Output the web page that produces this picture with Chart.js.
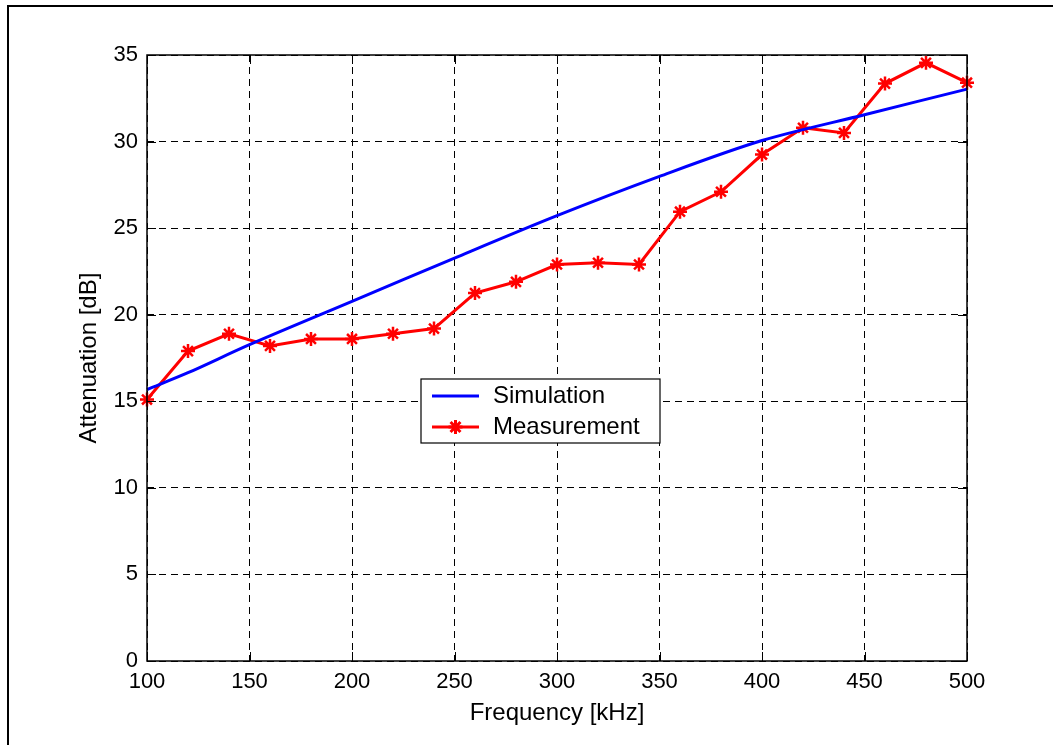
<!DOCTYPE html>
<html>
<head>
<meta charset="utf-8">
<script src="https://cdn.jsdelivr.net/npm/chart.js@4"></script>
<style>
  body { margin: 0; background: #fff; }
  #myChart { display: block; }
</style>
</head>
<body>
<canvas id="myChart" width="1053" height="745"></canvas>
<script>
// values
var measFreq = [100, 120, 140, 160, 180, 200, 220, 240, 260, 280, 300, 320, 340, 360, 380, 400, 420, 440, 460, 480, 500];
var measurement = [15.1, 17.9, 18.9, 18.2, 18.6, 18.6, 18.9, 19.2, 21.25, 21.9, 22.9, 23.0, 22.9, 25.95, 27.1, 29.25, 30.8, 30.5, 33.35, 34.55, 33.4];
var simFreq = [100, 120, 150, 200, 250, 300, 350, 400, 450, 500];
var simulation = [15.68, 16.65, 18.27, 20.77, 23.27, 25.72, 27.99, 30.06, 31.55, 33.03];
var xTicks = [100, 150, 200, 250, 300, 350, 400, 450, 500];
var yTicks = [0, 5, 10, 15, 20, 25, 30, 35];

var FONT = "'Liberation Sans', Arial, sans-serif";

function toPoints(xs, ys) {
    return xs.map(function (x, i) { return {x: x, y: ys[i]}; });
}

// frame, inward ticks, legend box
var matlabLook = {
    id: 'matlabLook',
    beforeDraw: function (chart) {
        var c = chart.ctx;
        c.save();
        c.fillStyle = '#fff';
        c.fillRect(0, 0, chart.width, chart.height);
        c.restore();
    },
    afterDraw: function (chart) {
        var c = chart.ctx, a = chart.chartArea;
        var xs = chart.scales.x, ys = chart.scales.y;
        c.save();
        c.strokeStyle = '#000';
        // outer figure frame (top + left)
        c.lineWidth = 2;
        c.beginPath();
        c.moveTo(8, 745); c.lineTo(8, 6); c.lineTo(1053, 6);
        c.stroke();
        // axes box
        c.lineWidth = 1.5;
        c.strokeRect(a.left, a.top, a.right - a.left, a.bottom - a.top);
        // inward ticks
        c.lineWidth = 1;
        c.beginPath();
        xTicks.forEach(function (v) {
            var px = Math.round(xs.getPixelForValue(v)) + 0.5;
            c.moveTo(px, a.bottom); c.lineTo(px, a.bottom - 9);
            c.moveTo(px, a.top); c.lineTo(px, a.top + 9);
        });
        yTicks.forEach(function (v) {
            var py = Math.round(ys.getPixelForValue(v)) + 0.5;
            c.moveTo(a.left, py); c.lineTo(a.left + 9, py);
            c.moveTo(a.right, py); c.lineTo(a.right - 9, py);
        });
        c.stroke();

        // legend
        var bx = 421, by = 379, bw = 239, bh = 64;
        c.fillStyle = '#fff';
        c.fillRect(bx, by, bw, bh);
        c.lineWidth = 1.2;
        c.strokeRect(bx, by, bw, bh);
        var rows = [396, 427];
        chart.data.datasets.forEach(function (ds, i) {
            var y = rows[i];
            c.strokeStyle = ds.borderColor;
            c.lineWidth = 3;
            c.beginPath(); c.moveTo(432, y); c.lineTo(479, y); c.stroke();
            if (ds.pointRadius > 0) {
                Chart.helpers.drawPoint(c, {pointStyle: 'star', radius: 7, borderWidth: 2.5}, 455.5, y);
            }
            c.fillStyle = '#000';
            c.font = '24px ' + FONT;
            c.textBaseline = 'middle';
            c.textAlign = 'left';
            c.fillText(ds.label, 493, y);
        });
        c.restore();
    }
};

var ctx = document.getElementById('myChart');
var myChart = new Chart(ctx, {
    type: 'line',
    data: {
        datasets: [{
            label: 'Simulation',
            data: toPoints(simFreq, simulation),
            borderColor: '#0000ff',
            backgroundColor: '#0000ff',
            borderWidth: 3,
            pointRadius: 0,
            tension: 0.3,
            clip: false
        }, {
            label: 'Measurement',
            data: toPoints(measFreq, measurement),
            borderColor: '#ff0000',
            backgroundColor: '#ff0000',
            borderWidth: 3,
            pointStyle: 'star',
            pointRadius: 7,
            pointBorderWidth: 2.5,
            pointBorderColor: '#ff0000',
            clip: false
        }]
    },
    options: {
        responsive: false,
        animation: false,
        layout: {
            padding: {top: 55, right: 86, left: 0, bottom: 0}
        },
        plugins: {
            legend: {display: false},
            tooltip: {enabled: false}
        },
        scales: {
            x: {
                type: 'linear',
                min: 100,
                max: 500,
                afterFit: function (s) { s.height = 84; },
                afterBuildTicks: function (s) { s.ticks = xTicks.map(function (v) { return {value: v}; }); },
                grid: {color: '#000', lineWidth: 1, drawTicks: false},
                border: {display: false, dash: [7, 5]},
                ticks: {color: '#000', padding: 8, maxRotation: 0, font: {family: FONT, size: 22}},
                title: {display: true, text: 'Frequency [kHz]', color: '#000', padding: {bottom: 17}, font: {family: FONT, size: 24}}
            },
            y: {
                min: 0,
                max: 35,
                afterFit: function (s) { s.width = 147; },
                afterBuildTicks: function (s) { s.ticks = yTicks.map(function (v) { return {value: v}; }); },
                grid: {color: '#000', lineWidth: 1, drawTicks: false},
                border: {display: false, dash: [7, 5]},
                ticks: {color: '#000', padding: 9, font: {family: FONT, size: 22}},
                title: {display: true, text: 'Attenuation [dB]', color: '#000', padding: {top: 75}, font: {family: FONT, size: 24}}
            }
        }
    },
    plugins: [matlabLook]
});
</script>
</body>
</html>
